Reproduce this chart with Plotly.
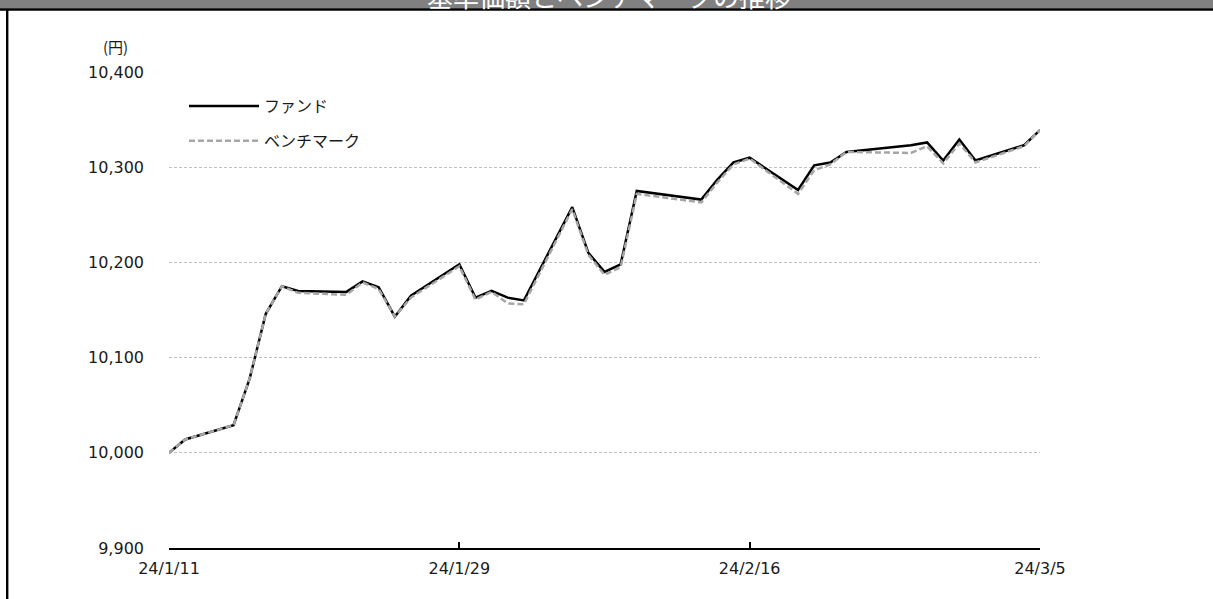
import plotly.graph_objects as go

dates = ["2024-01-11", "2024-01-12", "2024-01-15", "2024-01-16", "2024-01-17", "2024-01-18",
         "2024-01-19", "2024-01-22", "2024-01-23", "2024-01-24", "2024-01-25", "2024-01-26",
         "2024-01-29", "2024-01-30", "2024-01-31", "2024-02-01", "2024-02-02", "2024-02-05",
         "2024-02-06", "2024-02-07", "2024-02-08", "2024-02-09", "2024-02-13", "2024-02-14",
         "2024-02-15", "2024-02-16", "2024-02-19", "2024-02-20", "2024-02-21", "2024-02-22",
         "2024-02-26", "2024-02-27", "2024-02-28", "2024-02-29", "2024-03-01", "2024-03-04",
         "2024-03-05"]

fund = [10000, 10014, 10029, 10078, 10146, 10175,
        10170, 10169, 10180, 10174, 10143, 10165,
        10198, 10163, 10170, 10163, 10160, 10258,
        10210, 10190, 10198, 10275, 10266, 10287,
        10305, 10310, 10276, 10302, 10305, 10316,
        10323, 10326, 10307, 10329, 10307, 10323,
        10339]

benchmark = [10000, 10014, 10029, 10078, 10146, 10175,
             10168, 10166, 10179, 10172, 10143, 10163,
             10196, 10161, 10169, 10157, 10156, 10256,
             10208, 10187, 10195, 10272, 10263, 10284,
             10303, 10309, 10272, 10297, 10303, 10316,
             10315, 10322, 10304, 10325, 10305, 10322,
             10339]

series_names = ["ファンド", "ベンチマーク"]
title_text = "基準価額とベンチマークの推移"
unit_text = "(円)"
y_ticks = [9900, 10000, 10100, 10200, 10300, 10400]
x_ticks = ["2024-01-11", "2024-01-29", "2024-02-16", "2024-03-05"]

L, R, T, B = 169, 173, 72, 51
W, H = 1213, 599
PW, PH = W - L - R, H - T - B

def px(x):
    return (x - L) / PW

def py(y):
    return (H - B - y) / PH

fig = go.Figure()
fig.add_trace(go.Scatter(x=dates, y=fund, name=series_names[0], mode="lines",
                         line=dict(color="#000000", width=2.5), legendgroup="a"))
fig.add_trace(go.Scatter(x=dates, y=benchmark, name=series_names[1], mode="lines",
                         line=dict(color="#a6a6a6", width=2.5, dash="6px,3px"), legendgroup="b"))

text_font = dict(family="DejaVu Sans, Verdana, sans-serif", size=16, color="#1a1a1a")

fig.update_layout(
    width=W, height=H,
    margin=dict(l=L, r=R, t=T, b=B),
    paper_bgcolor="white", plot_bgcolor="white",
    showlegend=True,
    legend=dict(x=px(184), y=py(89), xanchor="left", yanchor="top",
                font=dict(family="Noto Sans CJK JP, sans-serif", size=16, color="#1a1a1a"),
                itemwidth=70, tracegroupgap=11, bgcolor="rgba(0,0,0,0)"),
    xaxis=dict(type="date", range=[x_ticks[0], x_ticks[-1]], tickvals=x_ticks,
               tickformat="%y/%-m/%-d", showgrid=False, zeroline=False,
               showline=True, linecolor="#000000", linewidth=2,
               ticks="inside", ticklen=6, tickwidth=1.5, tickcolor="#000000",
               ticklabelstandoff=5, tickfont=text_font),
    yaxis=dict(range=[y_ticks[0], y_ticks[-1]], tickvals=y_ticks, tickformat=",d",
               showgrid=True, gridcolor="#c0c0c0", gridwidth=1, griddash="3px,2px",
               zeroline=False, showline=False, ticks="", ticklabelstandoff=24,
               tickfont=text_font),
    shapes=[
        dict(type="rect", xref="paper", yref="paper", x0=px(0), x1=px(W), y0=py(0), y1=py(8.5),
             fillcolor="#808080", line=dict(width=0), layer="above"),
        dict(type="line", xref="paper", yref="paper", x0=px(0), x1=px(W), y0=py(9.5), y1=py(9.5),
             line=dict(color="#000000", width=2.4), layer="above"),
        dict(type="line", xref="paper", yref="paper", x0=px(7.2), x1=px(7.2), y0=py(9), y1=py(H),
             line=dict(color="#000000", width=2.4), layer="above"),
    ],
    annotations=[
        dict(text=title_text, xref="paper", yref="paper", x=px(609), y=py(16), xanchor="center",
             yanchor="bottom", showarrow=False,
             font=dict(family="Noto Sans CJK JP, sans-serif", size=26, color="#ffffff")),
        dict(text=unit_text, xref="paper", yref="paper", x=px(115), y=py(47), xanchor="center",
             yanchor="middle", showarrow=False,
             font=dict(family="Noto Sans CJK JP, sans-serif", size=15, color="#1a1a1a")),
    ],
)

fig.write_html("out.html", config={"displayModeBar": False},
               post_script="document.body.style.margin='0';document.body.style.overflow='hidden';")
